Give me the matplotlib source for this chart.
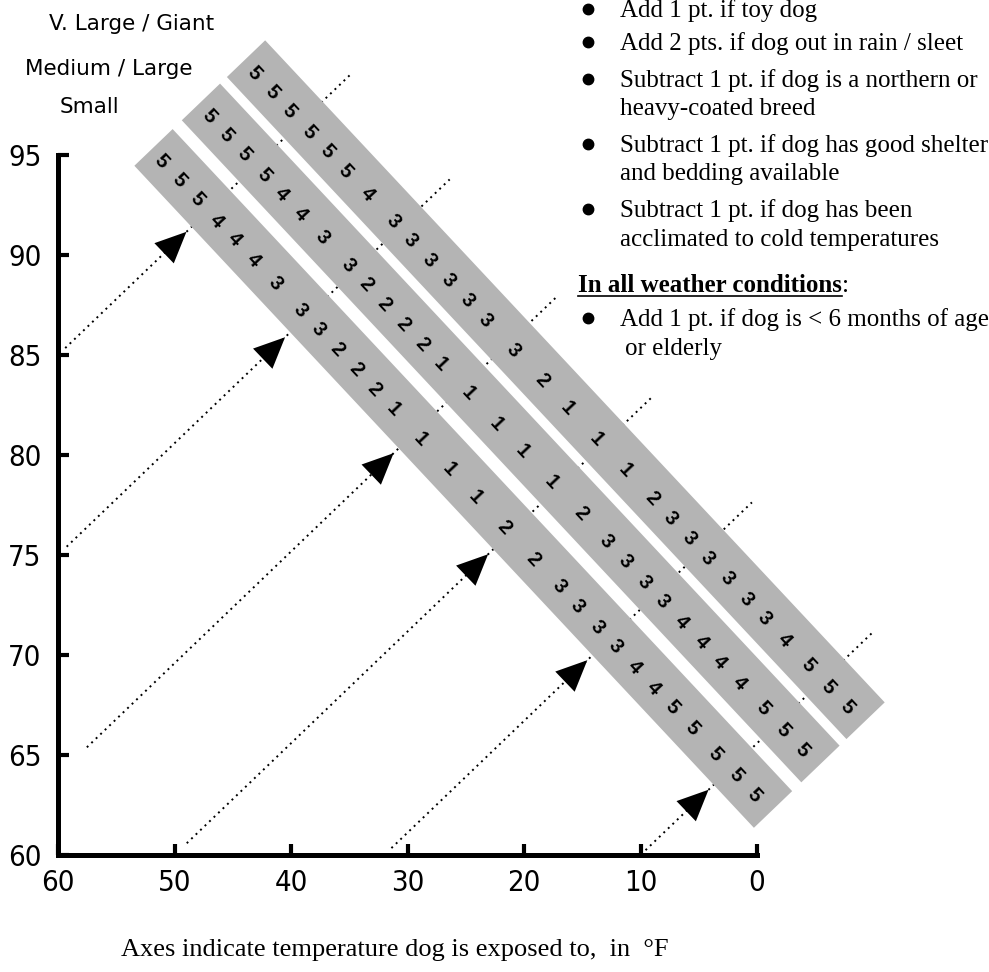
import numpy as np
import matplotlib
matplotlib.use('Agg')
import matplotlib.pyplot as plt
from matplotlib import font_manager
from matplotlib.lines import Line2D
from matplotlib.patches import Polygon
from matplotlib.transforms import IdentityTransform

W, H, DPI = 989, 972, 100

# temperature (deg F) that each rating cell lines up with, read along the bands
cell_temps = [89.7, 87.9, 86.1, 84.1, 82.3, 80.4, 78.2, 75.6, 73.8, 71.9,
              70.0, 68.1, 66.2, 63.4, 60.5, 56.2, 51.0, 45.7, 41.0, 37.6,
              34.1, 30.8, 27.3, 23.8, 20.5, 16.9, 12.6, 8.9, 5.5]

band_names = ['Small', 'Medium / Large', 'V. Large / Giant']
small_pts  = [5, 5, 5, 4, 4, 4, 3, 3, 3, 2, 2, 2, 1, 1, 1, 1, 2, 2, 3, 3, 3, 3, 4, 4, 5, 5, 5, 5, 5]
medium_pts = [5, 5, 5, 5, 4, 4, 3, 3, 2, 2, 2, 2, 1, 1, 1, 1, 1, 2, 3, 3, 3, 3, 4, 4, 4, 4, 5, 5, 5]
giant_pts  = [5, 5, 5, 5, 5, 5, 4, 3, 3, 3, 3, 3, 3, 3, 2, 1, 1, 1, 2, 3, 3, 3, 3, 3, 3, 4, 5, 5, 5]

# dotted guide lines leave the axes at these temperatures
guide_temps = [85, 75, 64, 50, 32, 10]

x_ticks = [60, 50, 40, 30, 20, 10, 0]
y_ticks = [60, 65, 70, 75, 80, 85, 90, 95]

notes = [('Add 1 pt. if toy dog', True),
         ('Add 2 pts. if dog out in rain / sleet', True),
         ('Subtract 1 pt. if dog is a northern or', True),
         ('heavy-coated breed', False),
         ('Subtract 1 pt. if dog has good shelter', True),
         ('and bedding available', False),
         ('Subtract 1 pt. if dog has been', True),
         ('acclimated to cold temperatures', False)]
all_weather_head = 'In all weather conditions'
all_weather_notes = [('Add 1 pt. if dog is < 6 months of age', True),
                     ('or elderly', False)]

# ---- layout (pixels) ----
BAND_ANGLE = -46.9
ISO_ANGLE = 43.8
band_offsets = [553.2, 618.9, 681.4]   # band centre, measured from the 60/60 corner
BAND_W = 53
BAND_T0, BAND_T1 = 90.8, 2.7
LABEL_SHIFT = -4
guide_gaps = [10, 12, 40, 17, 10, 7]
TIP_OFF = 519.6
FAR_OFF = 747.6
GREY = '#b4b4b4'

# narrow face for the tick numbers, if one is installed
tick_font = dict(family='Liberation Sans')
names = {(f.name, f.stretch) for f in font_manager.fontManager.ttflist}
if any(nm == 'Liberation Sans Narrow' for nm, _ in names):
    tick_font = dict(family='Liberation Sans Narrow')
elif ('DejaVu Sans', 'condensed') in names:
    tick_font = dict(family='DejaVu Sans', stretch='condensed')

fig = plt.figure(figsize=(W / DPI, H / DPI), dpi=DPI)
ax = fig.add_axes([58 / W, 117 / H, 699 / W, 700 / H])
ax.set_xlim(60, 0)
ax.set_ylim(60, 95)
for s in ['top', 'right']:
    ax.spines[s].set_visible(False)
for s in ['left', 'bottom']:
    ax.spines[s].set_linewidth(3.6)
    ax.spines[s].set_capstyle('projecting')

ax.set_xticks(x_ticks)
ax.set_yticks(y_ticks)
ax.set_xticklabels([str(v) for v in x_ticks], fontsize=21, **tick_font)
ax.set_yticklabels([str(v) for v in y_ticks], fontsize=21, **tick_font)
ax.tick_params(direction='in', length=8, width=3, color='black')
ax.tick_params(axis='y', pad=12)
ax.tick_params(axis='x', pad=10)

ident = IdentityTransform()
ba = np.radians(BAND_ANGLE)
n = np.array([np.cos(ba + np.pi / 2), np.sin(ba + np.pi / 2)])
d = np.array([np.cos(np.radians(ISO_ANGLE)), np.sin(np.radians(ISO_ANGLE))])
perp = np.array([-d[1], d[0]])
corner = ax.transData.transform((60, 60))
c0 = n @ corner


def axis_pt(T):
    xy = (60, T) if T >= 60 else (T, 60)
    return ax.transData.transform(xy)


def along(T, off):
    # follow the isotherm from the axes until it reaches offset `off`
    p0 = axis_pt(T)
    t = (c0 + off - n @ p0) / (n @ d)
    return p0 + t * d


# dotted guides + arrow heads
for T, gap in zip(guide_temps, guide_gaps):
    start = axis_pt(T) + gap * d
    end = along(T, FAR_OFF)
    fig.add_artist(Line2D([start[0], end[0]], [start[1], end[1]], transform=ident,
                          color='black', lw=1.4, ls=(0, (1, 2.2)), zorder=1))
    tip = along(T, TIP_OFF)
    base = tip - 31 * d
    fig.add_artist(Polygon([tip, base + 14 * perp, base - 14 * perp], closed=True,
                           transform=ident, fc='black', ec='none', zorder=4))

# grey bands with ratings
for off, pts in zip(band_offsets, [small_pts, medium_pts, giant_pts]):
    corners = [along(BAND_T0, off - BAND_W / 2), along(BAND_T0, off + BAND_W / 2),
               along(BAND_T1, off + BAND_W / 2), along(BAND_T1, off - BAND_W / 2)]
    fig.add_artist(Polygon(corners, closed=True, transform=ident,
                           fc=GREY, ec='none', zorder=2))
    for T, v in zip(cell_temps, pts):
        x, y = along(T, off + LABEL_SHIFT)
        fig.text(x, y, str(v), transform=ident, rotation=BAND_ANGLE,
                 rotation_mode='anchor', ha='center', va='center',
                 fontsize=14.5, weight='bold', family='Liberation Sans', zorder=3)

# band names, top left
name_xy = [(89, 113), (109, 75), (132, 30)]
for name, (x, y) in zip(band_names, name_xy):
    fig.text(x / W, 1 - y / H, name, ha='center', va='baseline',
             fontsize=15.5, family='DejaVu Sans')

# notes, top right
serif = 'Liberation Serif'
note_base = [17, 50, 87, 115, 152, 180, 217, 246]
for (txt, bullet), b in zip(notes, note_base):
    fig.text(620 / W, 1 - b / H, txt, fontsize=18, family=serif, va='baseline')
    if bullet:
        fig.add_artist(Line2D([588], [H - b + 8], transform=ident, marker='o',
                              ms=7.5, color='black', lw=0))

head = fig.text(578 / W, 1 - 292 / H, all_weather_head, fontsize=18, family=serif,
                weight='bold', va='baseline')
r = fig.canvas.get_renderer()
bb = head.get_window_extent(renderer=r)
fig.text(bb.x1, H - 292, ':', transform=ident, fontsize=18, family=serif, va='baseline')
fig.add_artist(Line2D([bb.x0, bb.x1], [H - 296, H - 296], transform=ident,
                      color='black', lw=1.2))

for (txt, bullet), b, x in zip(all_weather_notes, [326, 355], [620, 625]):
    fig.text(x / W, 1 - b / H, txt, fontsize=18, family=serif, va='baseline')
    if bullet:
        fig.add_artist(Line2D([588], [H - b + 8], transform=ident, marker='o',
                              ms=7.5, color='black', lw=0))

fig.text(395 / W, 1 - 956 / H, 'Axes indicate temperature dog is exposed to,  in  \u00b0F',
         ha='center', va='baseline', fontsize=19, family=serif)

fig.savefig('out.png', dpi=DPI)
